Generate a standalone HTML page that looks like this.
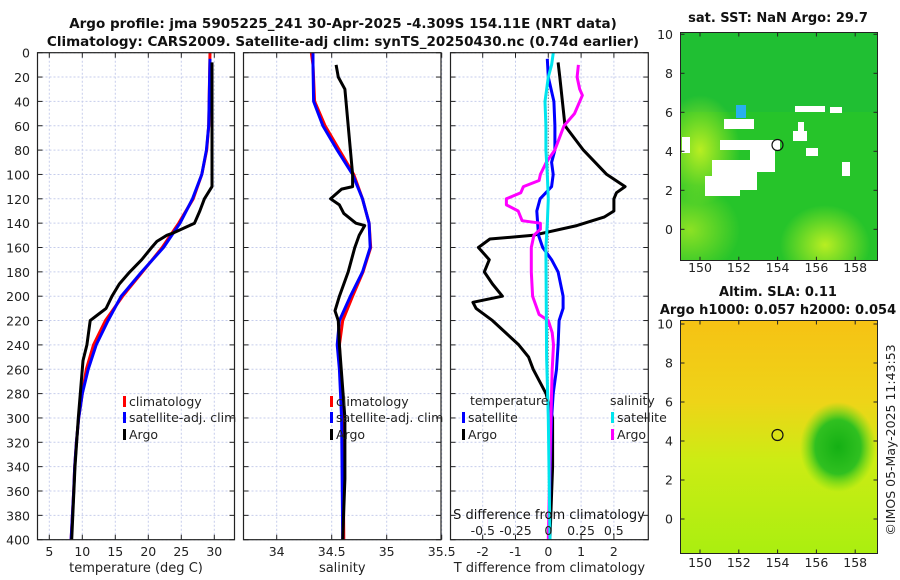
<!DOCTYPE html>
<html><head><meta charset="utf-8"><style>
body{margin:0;background:#fff;}
svg{display:block;font-family:"DejaVu Sans","Liberation Sans",sans-serif;}
</style></head><body>
<svg id="fig" width="900" height="580" viewBox="0 0 900 580" xmlns="http://www.w3.org/2000/svg">
<rect width="900" height="580" fill="#fff"/>
<text x="343" y="28" text-anchor="middle" font-size="13.5" font-weight="bold" fill="#111">Argo profile: jma 5905225_241 30-Apr-2025 -4.309S 154.11E (NRT data)</text>
<text x="343" y="46" text-anchor="middle" font-size="13.5" font-weight="bold" fill="#111">Climatology: CARS2009. Satellite-adj clim: synTS_20250430.nc (0.74d earlier)</text>
<g id="panels"></g>
<g id="maps">
 <text x="778" y="22" text-anchor="middle" font-size="13" font-weight="bold" fill="#111">sat. SST: NaN Argo: 29.7</text>
 <defs>
  <radialGradient id="yl1" cx="0.5" cy="0.5" r="0.5"><stop offset="0" stop-color="#b8ee22"/><stop offset="1" stop-color="#b8ee22" stop-opacity="0"/></radialGradient>
  <radialGradient id="gb" cx="0.5" cy="0.5" r="0.5"><stop offset="0" stop-color="#14b014"/><stop offset="0.6" stop-color="#30c020"/><stop offset="1" stop-color="#60d818" stop-opacity="0"/></radialGradient>
  <linearGradient id="slabg" x1="0" y1="0" x2="0" y2="1"><stop offset="0" stop-color="#f6c214"/><stop offset="0.35" stop-color="#eed418"/><stop offset="0.6" stop-color="#ccec14"/><stop offset="1" stop-color="#aaee10"/></linearGradient>
  <clipPath id="c1"><rect x="680.5" y="32.5" width="197" height="228"/></clipPath>
  <clipPath id="c2"><rect x="680.5" y="320.5" width="197" height="233"/></clipPath>
 </defs>
 <g clip-path="url(#c1)">
  <rect x="680" y="32" width="198" height="229" fill="#26c42a"/>
  <rect x="680" y="32" width="198" height="80" fill="#1cbc3a" opacity="0.6"/>
  <ellipse cx="700" cy="150" rx="40" ry="55" fill="url(#yl1)"/>
  <ellipse cx="690" cy="230" rx="50" ry="45" fill="url(#yl1)" opacity="0.7"/>
  <ellipse cx="825" cy="245" rx="45" ry="40" fill="url(#yl1)"/>
  <rect x="736" y="105" width="10" height="13" fill="#28b0ee"/>
  <g fill="#fff">
   <rect x="682" y="137" width="8" height="16"/><rect x="724" y="119" width="30" height="10"/>
   <rect x="720" y="140" width="60" height="10"/><rect x="750" y="140" width="25" height="32"/>
   <rect x="712" y="160" width="45" height="30"/><rect x="705" y="176" width="35" height="20"/>
   <rect x="793" y="131" width="14" height="10"/><rect x="795" y="106" width="30" height="6"/>
   <rect x="830" y="107" width="12" height="6"/><rect x="798" y="122" width="6" height="12"/>
   <rect x="806" y="148" width="12" height="8"/><rect x="842" y="162" width="8" height="14"/>
  </g>
  <circle cx="777.5" cy="145" r="5.5" fill="none" stroke="#111" stroke-width="1.2"/>
 </g>
 <rect x="680.5" y="32.5" width="197" height="228" fill="none" stroke="#222"/>
 <text x="778" y="296" text-anchor="middle" font-size="13" font-weight="bold" fill="#111">Altim. SLA: 0.11</text>
 <text x="778" y="314" text-anchor="middle" font-size="13" font-weight="bold" fill="#111">Argo h1000: 0.057 h2000: 0.054</text>
 <g clip-path="url(#c2)">
  <rect x="680" y="320" width="198" height="234" fill="url(#slabg)"/>
  <ellipse cx="838" cy="447" rx="38" ry="45" fill="url(#gb)"/>
  <circle cx="777.5" cy="435" r="5.5" fill="none" stroke="#111" stroke-width="1.2"/>
 </g>
 <rect x="680.5" y="320.5" width="197" height="233" fill="none" stroke="#222"/>
 <text transform="translate(895,440) rotate(-90)" text-anchor="middle" font-size="12.5" fill="#222">©IMOS 05-May-2025 11:43:53</text>
</g>
</svg>
<script>
const NS="http://www.w3.org/2000/svg";
const depths=[0,20,40,60,80,100,120,140,160,180,200,220,240,260,280,300,320,340,360,380,400];
// Temperature profiles
const climTd=[0,60,80,100,120,140,160,180,200,220,240,260,280,300,320,340,360,380,400];
const climT=[29.35,29.15,28.85,28.1,26.8,24.6,22.1,19.1,16.1,13.5,11.7,10.6,10.0,9.45,9.1,8.85,8.7,8.5,8.3];
const satTd=[5,60,80,100,120,140,160,180,200,220,240,260,280,300,320,340,360,380,400];
const satT=[29.35,29.15,28.8,28.1,26.7,24.8,22.3,19.0,15.9,13.9,12.1,10.9,10.0,9.45,9.1,8.85,8.7,8.5,8.3];
const argoTd=[8,110,120,130,140,148,150,155,160,170,180,190,200,210,215,220,240,253,280,300,340,400];
const argoT=[29.65,29.65,28.5,27.8,27.0,23.8,22.8,21.3,20.5,19.0,17.2,15.6,14.5,13.6,12.4,11.2,10.7,10.1,9.7,9.4,8.9,8.4];
// Salinity profiles
const climSd=[0,10,40,60,80,100,120,140,160,180,200,220,240,260,300,400];
const climS=[34.315,34.33,34.345,34.44,34.57,34.70,34.78,34.84,34.855,34.785,34.69,34.60,34.57,34.58,34.60,34.61];
const satS=[34.33,34.33,34.335,34.42,34.55,34.69,34.78,34.84,34.85,34.78,34.67,34.57,34.55,34.57,34.59,34.60];
const argoSd=[10,20,30,40,60,80,100,110,112,120,125,132,140,142,150,160,180,200,212,220,240,300,350,400];
const argoS=[34.54,34.56,34.62,34.63,34.65,34.67,34.69,34.69,34.59,34.49,34.57,34.61,34.72,34.8,34.75,34.71,34.65,34.57,34.53,34.56,34.57,34.62,34.62,34.6];
// Differences from climatology
const dTArgoD=[8,20,60,80,100,110,115,120,130,135,142,150,153,160,170,180,190,200,205,210,220,240,250,260,280,300,340,400];
const dTArgo=[0.3,0.35,0.51,1.07,1.78,2.34,2.08,2.0,2.0,1.7,0.87,-0.46,-1.78,-2.13,-1.8,-1.95,-1.7,-1.4,-2.3,-2.2,-1.7,-0.9,-0.6,-0.46,-0.07,0.13,0.13,0.05];
const dTSatD=[5,20,40,60,80,90,100,110,120,130,150,160,170,180,200,210,220,240,260,280,300,350,400];
const dTSat=[-0.03,0.0,0.17,0.2,0.2,0.1,0.15,0.1,-0.25,-0.35,-0.3,-0.17,0.1,0.3,0.45,0.45,0.33,0.3,0.25,0.15,0.1,0.05,0.02];
const dSSatD=[0,10,20,40,60,80,100,120,140,160,250,300,400];
const dSSat=[0.038,0.025,0.0,-0.025,-0.018,-0.018,-0.008,0.0,-0.008,-0.018,-0.013,0.0,0.013];
const dSArgoD=[10,20,30,35,50,60,80,90,100,105,110,115,120,125,130,138,140,145,150,160,180,200,215,220,230,240,260,300,350,400];
const dSArgo=[0.23,0.22,0.24,0.26,0.2,0.12,0.05,-0.015,-0.06,-0.07,-0.19,-0.21,-0.32,-0.32,-0.23,-0.2,-0.06,-0.06,-0.11,-0.13,-0.13,-0.12,-0.07,0.0,0.03,0.04,0.03,0.02,0.01,0.0];

const y=d=>52.7+d*1.2175;
const xT=v=>49.3+(v-5)*6.6;
const xS=v=>276.7+(v-34)*110;
const xdT=v=>548.3+v*32.8;
const xdS=v=>548.3+v*131;
const root=document.getElementById('panels');
function mk(tag,attrs,parent){const e=document.createElementNS(NS,tag);for(const k in attrs)e.setAttribute(k,attrs[k]);(parent||root).appendChild(e);return e;}
function txt(s,x,yy,anchor,size,parent){const t=mk('text',{x:x,y:yy,'text-anchor':anchor,'font-size':size,fill:'#222'},parent);t.textContent=s;return t;}

const panels=[
 {x0:37.5,x1:234.5,ticks:[5,10,15,20,25,30],fx:xT,lab:'temperature (deg C)',name:'temperature-panel'},
 {x0:243.5,x1:441,ticks:[34,34.5,35,35.5],fx:xS,lab:'salinity',name:'salinity-panel'},
 {x0:450.5,x1:648.3,ticks:[-2,-1,0,1,2],fx:xdT,lab:'T difference from climatology',name:'difference-panel'}
];
panels.forEach((p,pi)=>{
 const g=mk('g',{});
 
 
 p.g=g;
 depths.forEach(d=>{
  const gl=mk('line',{x1:p.x0,x2:p.x1,y1:y(d),y2:y(d),stroke:'#c6cdec','stroke-dasharray':'2,2','stroke-width':1},g);
  
  
  mk('line',{x1:p.x0,x2:p.x0+5,y1:y(d),y2:y(d),stroke:'#222'},g);
  mk('line',{x1:p.x1-5,x2:p.x1,y1:y(d),y2:y(d),stroke:'#222'},g);
 });
 p.ticks.forEach(t=>{
  const xx=p.fx(t);
  const gl=mk('line',{x1:xx,x2:xx,y1:y(0),y2:y(400),stroke:'#c6cdec','stroke-dasharray':'2,2'},g);
  
  
  mk('line',{x1:xx,x2:xx,y1:y(400),y2:y(400)-5,stroke:'#222'},g);
  mk('line',{x1:xx,x2:xx,y1:y(0),y2:y(0)+5,stroke:'#222'},g);
  const tl=txt(String(t),xx,556,'middle',12.5,g);
  
  
 });
 const al=txt(p.lab,(p.x0+p.x1)/2,572,'middle',13,g);
 
 
});
depths.forEach(d=>{
 const t=txt(String(d),30,y(d)+5,'end',12.5);
 
 
});

function line(ds,vs,fx,color,w,name,parent){
 const pts=ds.map((d,i)=>fx(vs[i]).toFixed(1)+','+y(d).toFixed(1)).join(' ');
 const pl=mk('polyline',{points:pts,fill:'none',stroke:color,'stroke-width':w,'stroke-linejoin':'round'},parent);
 
 
}
const g1=panels[0].g,g2=panels[1].g,g3=panels[2].g;
line(climTd,climT,xT,'#ff0000',3,'temperature-climatology-line',g1);
line(satTd,satT,xT,'#0000ff',3,'temperature-satellite-line',g1);
line(argoTd,argoT,xT,'#000',3,'temperature-argo-line',g1);
line(climSd,climS,xS,'#ff0000',3,'salinity-climatology-line',g2);
line(climSd,satS,xS,'#0000ff',3,'salinity-satellite-line',g2);
line(argoSd,argoS,xS,'#000',3,'salinity-argo-line',g2);
const zl=mk('line',{x1:548.3,x2:548.3,y1:y(0),y2:y(400),stroke:'#555','stroke-dasharray':'1,2'},g3);


line(dTArgoD,dTArgo,xdT,'#000',3,'t-diff-argo-line',g3);
line(dTSatD,dTSat,xdT,'#0000ff',3,'t-diff-satellite-line',g3);
line(dSArgoD,dSArgo,xdS,'#ff00ff',3,'s-diff-argo-line',g3);
line(dSSatD,dSSat,xdS,'#00e5ee',3,'s-diff-satellite-line',g3);

// S difference axis labels inside panel 3
const sTicks=[-0.5,-0.25,0,0.25,0.5];
const sg=mk('text',{x:549,y:519,'text-anchor':'middle','font-size':13,fill:'#111'},g3);
sg.textContent='S difference from climatology';


sTicks.forEach(s=>{
 const t=txt(String(s),xdS(s),535,'middle',12.5,g3);
 
 
});

// frames
panels.forEach(p=>{
 const f=mk('rect',{x:p.x0,y:y(0),width:p.x1-p.x0,height:y(400)-y(0),fill:'none',stroke:'#222','stroke-width':1.2},p.g);
 
 
});

// legends
function leg(x,yy,color,label,parent){
 mk('rect',{x:x,y:yy-9,width:3,height:11,fill:color},parent);
 const t=txt(label,x+6,yy+1,'start',12.5,parent);
 
 
}
[[123,g1],[330,g2]].forEach(([lx,g])=>{
 leg(lx,405,'#ff0000','climatology',g);
 leg(lx,421,'#0000ff','satellite-adj. clim',g);
 leg(lx,438,'#000','Argo',g);
});
const th=txt('temperature',470,405,'start',12.5,g3);


const sh=txt('salinity',610,405,'start',12.5,g3);


leg(462,421,'#0000ff','satellite',g3);
leg(462,438,'#000','Argo',g3);
leg(611,421,'#00e5ee','satellite',g3);
leg(611,438,'#ff00ff','Argo',g3);

// map ticks
const mapsG=document.getElementById('maps');
const lons=[150,152,154,156,158];
const lats=[0,2,4,6,8,10];
[[229.3,32.5,260.7,272],[519,320.5,553.5,567]].forEach(([lat0,top,bot,ly])=>{
 lons.forEach(l=>{
  const xx=700+(l-150)*19.4;
  mk('line',{x1:xx,x2:xx,y1:bot,y2:bot-4,stroke:'#222'},mapsG);
  mk('line',{x1:xx,x2:xx,y1:top,y2:top+4,stroke:'#222'},mapsG);
  const t=txt(String(l),xx,ly,'middle',12.5,mapsG);
  
  
 });
 lats.forEach(a=>{
  const yy=lat0-a*19.5;
  mk('line',{x1:680.5,x2:684.5,y1:yy,y2:yy,stroke:'#222'},mapsG);
  mk('line',{x1:877.5,x2:873.5,y1:yy,y2:yy,stroke:'#222'},mapsG);
  const t=txt(String(a),673,yy+4.5,'end',12.5,mapsG);
  
  
 });
});
</script>
</body></html>
